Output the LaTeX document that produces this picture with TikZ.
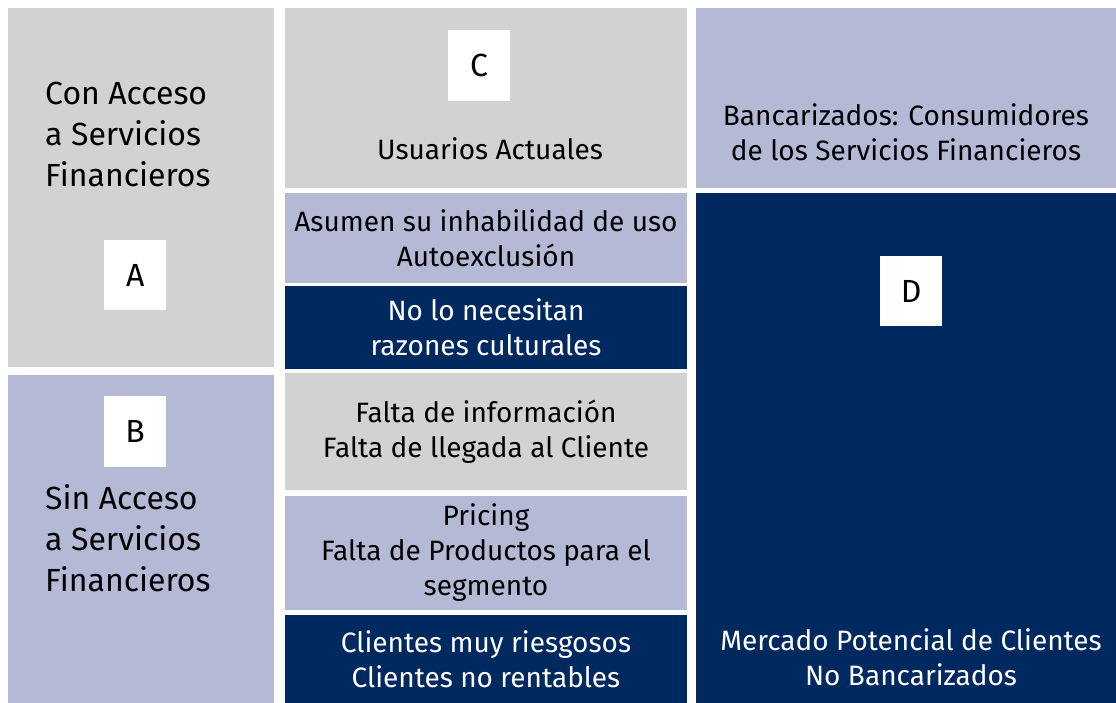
\documentclass[tikz,border=0pt]{standalone}
\usepackage{fontspec}
\setmainfont{Fira Sans}
\usetikzlibrary{positioning}
\definecolor{grisclaro}{RGB}{209,210,212}
\definecolor{lavanda}{RGB}{180,185,213}
\definecolor{marino}{RGB}{0,41,96}
\def\txtgrande{\fontsize{32}{41}\selectfont}
\def\txtcelda{\fontsize{28}{35}\selectfont}

\begin{document}
\begin{tikzpicture}[x=1pt,y=-1pt,
  cell/.style={anchor=north west,inner sep=0pt,outer sep=0pt,align=center,font=\txtcelda},
  gris/.style={cell,fill=grisclaro,text=black},
  lav/.style={cell,fill=lavanda,text=black},
  azul/.style={cell,fill=marino,text=white},
  letra/.style={anchor=north west,fill=white,inner sep=0pt,minimum width=62pt,minimum height=70pt,font=\txtgrande},
  rotulo/.style={align=center,font=\txtcelda}]
  \useasboundingbox (0,0) rectangle (1116,703);

  % columna izquierda
  \node[gris,minimum width=266pt,minimum height=359pt] (A) at (8,8) {};
  \node[lav,minimum width=266pt,minimum height=328pt] (B) at (8,375) {};
  \node[anchor=west,align=left,inner sep=0pt,font=\txtgrande] (conacceso) at (45,134) {Con Acceso\\a Servicios\\Financieros};
  \node[anchor=west,align=left,inner sep=0pt,font=\txtgrande] (sinacceso) at (45,538) {Sin Acceso\\a Servicios\\Financieros};
  \node[letra] (letraA) at (104,240) {A};
  \node[letra,minimum height=71pt] (letraB) at (104,396) {B};

  % columna central
  \node[gris,minimum width=402pt,minimum height=180pt] (C) at (285,8) {};
  \node[letra,minimum height=71pt] (letraC) at (448,30) {C};
  \node[rotulo] (usuarios) at (490,149) {Usuarios Actuales};
  \node[lav,minimum width=402pt,minimum height=90pt] (asumen) at (285,193)
    {Asumen su inhabilidad de uso\\Autoexclusión};
  \node[azul,minimum width=402pt,minimum height=83pt] (nolo) at (285,286)
    {No lo necesitan\\razones culturales};
  \node[gris,minimum width=402pt,minimum height=117pt] (falta) at (285,373)
    {Falta de información\\Falta de llegada al Cliente};
  \node[lav,minimum width=402pt,minimum height=114pt] (pricing) at (285,496)
    {Pricing\\Falta de Productos para el\\segmento};
  \node[azul,minimum width=402pt,minimum height=88pt] (clientes) at (285,615)
    {Clientes muy riesgosos\\Clientes no rentables};

  % columna derecha
  \node[lav,minimum width=420pt,minimum height=180pt] (banc) at (696,8) {};
  \node[rotulo] (consumidores) at (906,132) {Bancarizados: Consumidores\\de los Servicios Financieros};
  \node[azul,minimum width=420pt,minimum height=510pt] (D) at (696,193) {};
  \node[letra] (letraD) at (880,256) {D};
  \node[rotulo,text=white] (mercado) at (911,657) {Mercado Potencial de Clientes\\No Bancarizados};
\end{tikzpicture}
\end{document}
